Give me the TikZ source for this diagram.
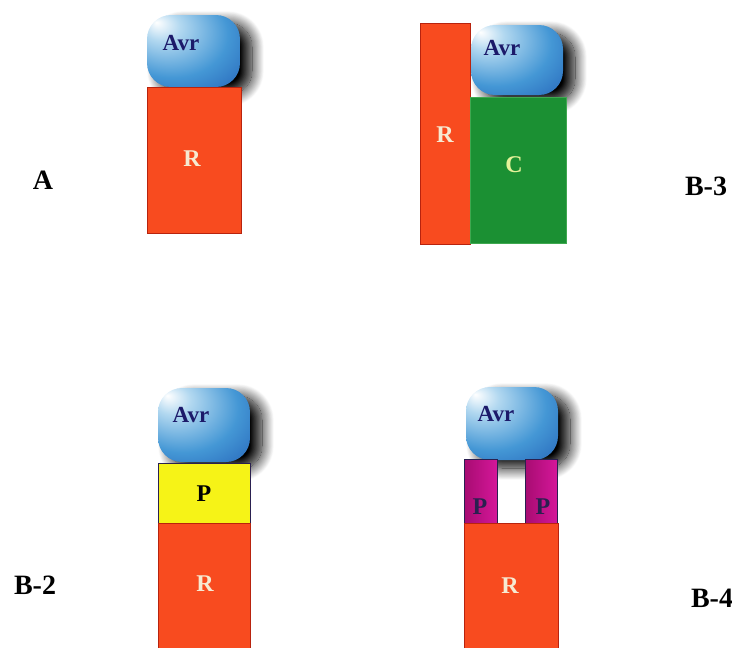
\documentclass[tikz,border=0pt]{standalone}
\usepackage{fontspec}
\setmainfont{Liberation Serif}
\usetikzlibrary{shadows.blur}
\definecolor{avrlight}{HTML}{B2D8F0}
\definecolor{avrmid}{HTML}{4497D5}
\definecolor{avrdark}{HTML}{1E58B2}
\definecolor{avrtext}{HTML}{1C1A6A}
\definecolor{rfill}{HTML}{F84B1F}
\definecolor{rdraw}{HTML}{B8230E}
\definecolor{rtext}{HTML}{F6EAD2}
\definecolor{cfill}{HTML}{1B9033}
\definecolor{cdraw}{HTML}{3FA850}
\definecolor{ctext}{HTML}{E4F29A}
\definecolor{pyel}{HTML}{F6F317}
\definecolor{pdraw}{HTML}{2A2050}
\definecolor{pmagA}{HTML}{A80C72}
\definecolor{pmagB}{HTML}{D5179A}
\pgfdeclareradialshading{avrshade}{\pgfpoint{-20bp}{20bp}}{color(0bp)=(white); color(10bp)=(avrlight); color(30bp)=(avrmid); color(52bp)=(avrdark); color(70bp)=(avrdark)}
\tikzset{
  avrbox/.style={shading=avrshade, rounded corners=24pt, draw=none, inner sep=0pt,
    blur shadow={shadow xshift=12pt, shadow yshift=-8pt, shadow blur radius=12pt, shadow opacity=100, shadow blur steps=20}},
  avrlbl/.style={font=\fontsize{23}{25}\selectfont\bfseries, text=avrtext, inner sep=0pt},
  rbox/.style={fill=rfill, draw=rdraw, line width=0.9pt, inner sep=0pt},
  cbox/.style={fill=cfill, draw=cdraw, line width=0.8pt, inner sep=0pt},
  pybox/.style={fill=pyel, draw=pdraw, line width=1pt, inner sep=0pt},
  pmbox/.style={left color=pmagA, right color=pmagB, draw=pdraw, line width=1pt, inner sep=0pt},
  boxlbl/.style={font=\fontsize{24}{26}\selectfont\bfseries, inner sep=0pt},
  caption/.style={font=\fontsize{28}{30}\selectfont\bfseries, text=black, inner sep=0pt}
}
\begin{document}
\begin{tikzpicture}[x=1pt,y=-1pt]
\useasboundingbox (0,0) rectangle (732,648);
% ---------- A ----------
\path[avrbox] (147,15) rectangle (240,87);
\node[rbox, anchor=north west, minimum width=94pt, minimum height=146pt] (rA) at (147,87) {};
\node[avrlbl] (avrA) at (181,43) {Avr};
\node[boxlbl, text=rtext] (rAt) at (192,159) {R};
\node[caption] (capA) at (43,180) {A};
% ---------- B-3 ----------
\path[avrbox] (471,25) rectangle (563,95);
\node[rbox, anchor=north west, minimum width=50pt, minimum height=221pt] (rB3) at (420,23) {};
\node[cbox, anchor=north west, minimum width=96pt, minimum height=146pt] (cB3) at (470,97) {};
\node[avrlbl] (avrB3) at (502,48) {Avr};
\node[boxlbl, text=rtext] (rB3t) at (445,135) {R};
\node[boxlbl, text=ctext] (cB3t) at (514,165) {C};
\node[caption] (capB3) at (706,186) {B-3};
% ---------- B-2 ----------
\path[avrbox] (158,388) rectangle (250,462);
\node[pybox, anchor=north west, minimum width=92pt, minimum height=60pt] (pB2) at (158,463) {};
\node[rbox, anchor=north west, minimum width=92pt, minimum height=130pt] (rB2) at (158,523) {};
\node[avrlbl] (avrB2) at (191,415) {Avr};
\node[boxlbl, text=black] (pB2t) at (204,494) {P};
\node[boxlbl, text=rtext] (rB2t) at (205,584) {R};
\node[caption] (capB2) at (35,585) {B-2};
% ---------- B-4 ----------
\path[avrbox] (466,387) rectangle (558,460);
\node[pmbox, anchor=north west, minimum width=33pt, minimum height=64pt] (pB4a) at (464,459) {};
\node[pmbox, anchor=north west, minimum width=32pt, minimum height=64pt] (pB4b) at (525,459) {};
\node[rbox, anchor=north west, minimum width=94pt, minimum height=130pt] (rB4) at (464,523) {};
\node[avrlbl] (avrB4) at (496,414) {Avr};
\node[boxlbl, text=pdraw] (pB4at) at (480,507) {P};
\node[boxlbl, text=pdraw] (pB4bt) at (543,507) {P};
\node[boxlbl, text=rtext] (rB4t) at (510,586) {R};
\node[caption] (capB4) at (712,598) {B-4};
\end{tikzpicture}
\end{document}
